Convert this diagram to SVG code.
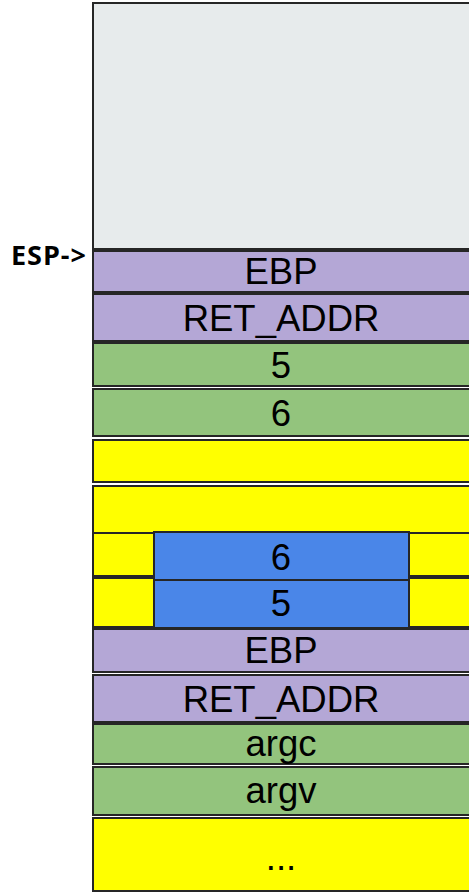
<svg xmlns="http://www.w3.org/2000/svg" width="469" height="893" viewBox="0 0 469 893">
<style>
.c{stroke:#262626;stroke-width:2}
.g{fill:#e7ebec}
.p{fill:#b4a7d6}
.gr{fill:#93c47d}
.y{fill:#ffff00}
.b{fill:#4a86e8}
.t{font-family:"Liberation Sans",Arial,sans-serif;font-size:36.5px;fill:#000;text-anchor:middle}
.l{font-family:"Open Sans","Noto Sans",sans-serif;font-weight:bold;font-size:27px;letter-spacing:1px;fill:#000;text-anchor:end}
</style>
<rect width="469" height="893" fill="#fff"/>
<g id="free"><rect class="c g" x="93" y="3" width="390" height="246"/></g>
<g id="ebp1"><rect class="c p" x="93" y="251" width="390" height="41"/><text class="t" x="281" y="284">EBP</text></g>
<g id="ret1"><rect class="c p" x="93" y="294" width="390" height="47"/><text class="t" x="281" y="331">RET_ADDR</text></g>
<g id="v5"><rect class="c gr" x="93" y="343" width="390" height="43"/><text class="t" x="281" y="378">5</text></g>
<g id="v6"><rect class="c gr" x="93" y="389" width="390" height="47"/><text class="t" x="281" y="426">6</text></g>
<g id="y1"><rect class="c y" x="93" y="440" width="390" height="42"/></g>
<g id="y2"><rect class="c y" x="93" y="486" width="390" height="47"/></g>
<g id="y3"><rect class="c y" x="93" y="533" width="390" height="43"/></g>
<g id="y4"><rect class="c y" x="93" y="578" width="390" height="49"/></g>
<g id="b6"><rect class="c b" x="154" y="532" width="255" height="48"/><text class="t" x="281" y="570">6</text></g>
<g id="b5"><rect class="c b" x="154" y="580" width="255" height="48"/><text class="t" x="281" y="616">5</text></g>
<g id="ebp2"><rect class="c p" x="93" y="629" width="390" height="43"/><text class="t" x="281" y="663">EBP</text></g>
<g id="ret2"><rect class="c p" x="93" y="675" width="390" height="47"/><text class="t" x="281" y="712">RET_ADDR</text></g>
<g id="argc"><rect class="c gr" x="93" y="724" width="390" height="40"/><text class="t" x="281" y="756">argc</text></g>
<g id="argv"><rect class="c gr" x="93" y="767" width="390" height="48"/><text class="t" x="281" y="803">argv</text></g>
<g id="rest"><rect class="c y" x="93" y="818" width="390" height="73"/><text class="t" x="281" y="870">...</text></g>
<g id="esp"><text class="l" x="87" y="265">ESP-&gt;</text></g>
<g id="connectors"></g>
</svg>
